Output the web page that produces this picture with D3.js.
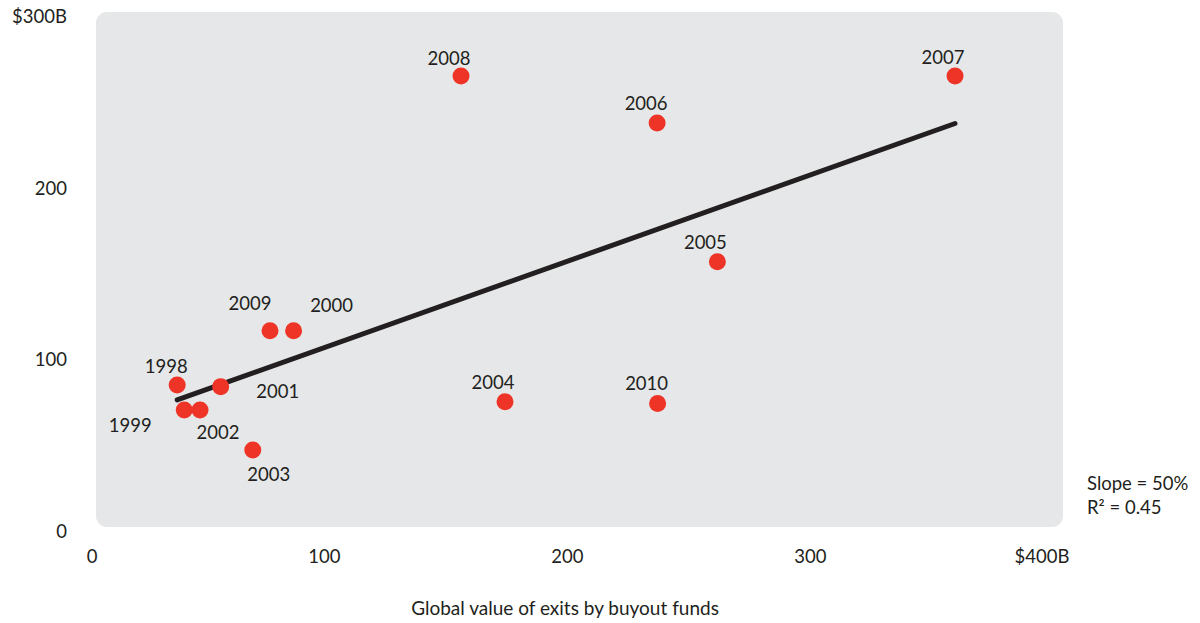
<!DOCTYPE html>
<html><head><meta charset="utf-8">
<script src="https://cdn.jsdelivr.net/npm/d3@7"></script>
<style>
body{margin:0;background:#fff;}
svg text{font-family:Lato, "Noto Sans", sans-serif; fill:#231f20;}
</style>
</head><body>
<svg id="chart" width="1200" height="623"></svg>
<script>
// ---- data ----
const years       = [1998, 1999, 2000, 2001, 2002, 2003, 2004, 2005, 2006, 2007, 2008, 2009, 2010];
const exitValues  = [33.0, 35.9, 80.9, 50.9, 42.4, 64.1, 167.9, 255.3, 230.5, 353.1, 149.8, 71.2, 230.7];
const dealValues  = [85.0, 70.5, 116.7, 84.1, 70.5, 47.2, 75.3, 156.9, 237.7, 265.0, 265.0, 116.7, 74.3];
const xTicks      = [0, 100, 200, 300, 400];
const xTickLabels = ["0", "100", "200", "300", "$400B"];
const yTicks      = [0, 100, 200, 300];
const yTickLabels = ["0", "100", "200", "$300B"];
const xTitle      = "Global value of exits by buyout funds";
const statLines   = ["Slope = 50%", "R\u00B2 = 0.45"];

// ---- layout (label offsets in px, by year) ----
const labelOffsets = {
  1998: [-11, -19], 1999: [-54, 16], 2000: [38, -25], 2001: [57, 5],
  2002: [18, 23], 2003: [16, 25], 2004: [-12, -19], 2005: [-12, -19],
  2006: [-11, -19], 2007: [-12, -19], 2008: [-12, -18], 2009: [-20, -27],
  2010: [-11, -20]
};

const svg = d3.select("#chart");
const FS = 18.5;
const x = d3.scaleLinear().domain([0, 400]).range([97, 1069]);
const y = d3.scaleLinear().domain([0, 300]).range([531, 16]);

// plot background
svg.append("rect")
  .attr("x", 96).attr("y", 12).attr("width", 967).attr("height", 515)
  .attr("rx", 11).attr("fill", "#e6e7e8");

// x axis labels
const xAxis = d3.axisBottom(x).tickValues(xTicks).tickSize(0)
  .tickFormat((d, i) => xTickLabels[i]);
const gx = svg.append("g").attr("transform", "translate(0,557)").call(xAxis);
gx.select(".domain").remove();
gx.selectAll("text").attr("y", 0).attr("dy", "0.35em")
  .attr("text-anchor", "end").attr("font-size", FS)
  .style("font-family", "Lato, sans-serif").attr("fill", "#231f20");

// y axis labels
const yAxis = d3.axisLeft(y).tickValues(yTicks).tickSize(0).tickPadding(0)
  .tickFormat((d, i) => yTickLabels[i]);
const gy = svg.append("g").attr("transform", "translate(67,0)").call(yAxis);
gy.select(".domain").remove();
gy.selectAll("text").attr("dy", "0.35em").attr("font-size", FS)
  .style("font-family", "Lato, sans-serif").attr("fill", "#231f20");

// regression line from data
const pts = years.map((yr, i) => ({year: yr, xv: exitValues[i], yv: dealValues[i]}));
const mx = d3.mean(pts, d => d.xv), my = d3.mean(pts, d => d.yv);
const sxy = d3.sum(pts, d => (d.xv - mx) * (d.yv - my));
const sxx = d3.sum(pts, d => (d.xv - mx) ** 2);
const slope = sxy / sxx, intercept = my - slope * mx;
const [x0, x1] = d3.extent(exitValues);
svg.append("line")
  .attr("x1", x(x0)).attr("y1", y(intercept + slope * x0))
  .attr("x2", x(x1)).attr("y2", y(intercept + slope * x1))
  .attr("stroke", "#231f20").attr("stroke-width", 5).attr("stroke-linecap", "round");

// dots
svg.append("g").selectAll("circle").data(pts).join("circle")
  .attr("cx", d => x(d.xv)).attr("cy", d => y(d.yv)).attr("r", 8.5)
  .attr("fill", "#ee3427");

// year labels
svg.append("g").selectAll("text").data(pts).join("text")
  .attr("x", d => x(d.xv) + labelOffsets[d.year][0])
  .attr("y", d => y(d.yv) + labelOffsets[d.year][1])
  .attr("dy", "0.35em").attr("text-anchor", "middle").attr("font-size", FS)
  .text(d => d.year);

// x title
svg.append("text").attr("x", 565).attr("y", 608).attr("dy", "0.35em")
  .attr("text-anchor", "middle").attr("font-size", 19).text(xTitle);

// stats
svg.append("g").selectAll("text").data(statLines).join("text")
  .attr("x", 1087).attr("y", (d, i) => 484 + i * 24).attr("dy", "0.35em")
  .attr("font-size", FS).text(d => d);
</script>
</body></html>
